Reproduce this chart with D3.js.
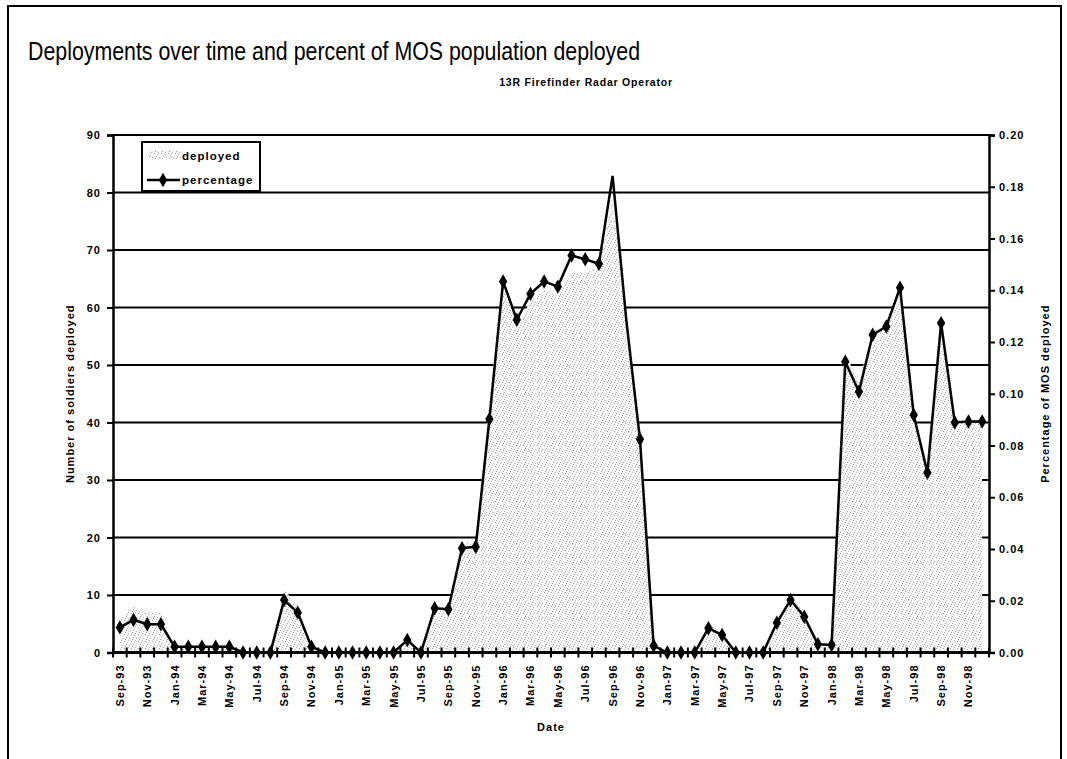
<!DOCTYPE html>
<html>
<head>
<meta charset="utf-8">
<script src="https://cdn.jsdelivr.net/npm/d3@7"></script>
<style>
  html, body { margin: 0; padding: 0; background: #fff; }
  svg { display: block; }
  text { font-family: "Liberation Sans", Arial, sans-serif; fill: #000; }
</style>
</head>
<body>
<svg id="chart" width="1067" height="759"></svg>
<script>
// Monthly categories, Sep-93 through Dec-98
const months = [
  "Sep-93","Oct-93","Nov-93","Dec-93",
  "Jan-94","Feb-94","Mar-94","Apr-94","May-94","Jun-94","Jul-94","Aug-94","Sep-94","Oct-94","Nov-94","Dec-94",
  "Jan-95","Feb-95","Mar-95","Apr-95","May-95","Jun-95","Jul-95","Aug-95","Sep-95","Oct-95","Nov-95","Dec-95",
  "Jan-96","Feb-96","Mar-96","Apr-96","May-96","Jun-96","Jul-96","Aug-96","Sep-96","Oct-96","Nov-96","Dec-96",
  "Jan-97","Feb-97","Mar-97","Apr-97","May-97","Jun-97","Jul-97","Aug-97","Sep-97","Oct-97","Nov-97","Dec-97",
  "Jan-98","Feb-98","Mar-98","Apr-98","May-98","Jun-98","Jul-98","Aug-98","Sep-98","Oct-98","Nov-98","Dec-98"
];

// Number of soldiers deployed (left axis)
const deployed = [
  6, 8, 7, 7,
  1, 1, 1, 1, 1, 0, 0, 0, 11, 8, 1, 0,
  0, 0, 0, 0, 0, 3, 0, 8, 8, 19, 19, 44,
  65, 57, 61, 63, 62, 66, 66, 67, 79, 57, 38, 1,
  0, 0, 0, 5, 4, 0, 0, 0, 6, 10, 7, 1,
  1, 52, 47, 56, 57, 64, 42, 32, 57, 40, 40, 40
];

// Share of the MOS population deployed (right axis)
const percentage = [
  0.0097, 0.0126, 0.0109, 0.0109,
  0.0022, 0.0022, 0.0022, 0.0022, 0.0022, 0, 0, 0, 0.0203, 0.0154, 0.0022, 0,
  0, 0, 0, 0, 0, 0.0048, 0, 0.0171, 0.0167, 0.0403, 0.0409, 0.0902,
  0.1434, 0.1286, 0.1386, 0.1434, 0.1414, 0.1534, 0.1520, 0.1502, 0.1842, 0.1286, 0.0824, 0.0026,
  0, 0, 0, 0.0094, 0.0068, 0, 0, 0, 0.0115, 0.0203, 0.0138, 0.0032,
  0.0029, 0.1124, 0.1008, 0.1228, 0.1260, 0.1410, 0.0918, 0.0695, 0.1273, 0.0889, 0.0893, 0.0893
];

// Months plotted on the line without a diamond marker
const unmarked = ["Sep-96", "Oct-96"];

// Axis ticks
const leftTicks = [0, 10, 20, 30, 40, 50, 60, 70, 80, 90];
const rightTicks = [0, 0.02, 0.04, 0.06, 0.08, 0.10, 0.12, 0.14, 0.16, 0.18, 0.20];

const svg = d3.select("#chart");
const plot = { left: 113, right: 989, top: 135, bottom: 652.5 };

const x = d3.scaleBand().domain(months).range([plot.left, plot.right]);
const cx = m => x(m) + x.bandwidth() / 2;
const y = d3.scaleLinear().domain([0, 90]).range([plot.bottom, plot.top]);
const y2 = d3.scaleLinear().domain([0, 0.2]).range([plot.bottom, plot.top]);

// Stippled fill for the deployed area
const defs = svg.append("defs");
const pat = defs.append("pattern")
  .attr("id", "stipple")
  .attr("patternUnits", "userSpaceOnUse")
  .attr("width", 7).attr("height", 7);
pat.append("rect").attr("width", 7).attr("height", 7).attr("fill", "#f5f5f5");
[[0,0],[3,1],[5,4],[1,5],[6,2],[2,3]].forEach(([a, b], i) => {
  pat.append("rect").attr("x", a).attr("y", b).attr("width", 1).attr("height", 1)
    .attr("fill", i % 2 ? "#bdbdbd" : "#a0a0a0");
});

// Outer frame
svg.append("rect")
  .attr("x", 8).attr("y", 6).attr("width", 1053).attr("height", 780)
  .attr("fill", "none").attr("stroke", "#000").attr("stroke-width", 2);

// Titles
svg.append("text")
  .attr("x", 28).attr("y", 60)
  .style("font-size", "25px")
  .attr("textLength", 612).attr("lengthAdjust", "spacingAndGlyphs")
  .text("Deployments over time and percent of MOS population deployed");

svg.append("text")
  .attr("x", 586).attr("y", 86)
  .attr("text-anchor", "middle")
  .style("font-size", "10.5px").style("font-weight", "bold").style("letter-spacing", "0.8px")
  .text("13R Firefinder Radar Operator");

// Horizontal gridlines
svg.append("g")
  .selectAll("line")
  .data(leftTicks.filter(d => d > 0))
  .join("line")
  .attr("x1", plot.left).attr("x2", plot.right)
  .attr("y1", d => y(d)).attr("y2", d => y(d))
  .attr("stroke", "#000").attr("stroke-width", 2);

// Deployed area
const area = d3.area()
  .x((d, i) => cx(months[i]))
  .y0(y(0))
  .y1(d => y(d));
svg.append("path")
  .datum(deployed)
  .attr("d", area)
  .attr("fill", "url(#stipple)");

// Left axis
const yAxis = d3.axisLeft(y).tickValues(leftTicks).tickSize(6).tickPadding(6);
const gy = svg.append("g").attr("transform", `translate(${plot.left},0)`).call(yAxis);
gy.select(".domain").attr("stroke-width", 2.5);
gy.selectAll(".tick line").attr("stroke-width", 2);
gy.selectAll("text")
  .style("font-size", "11px").style("font-weight", "bold").style("letter-spacing", "1px")
  .style("font-family", "Liberation Sans, Arial, sans-serif");

// Right axis
const yAxis2 = d3.axisRight(y2).tickValues(rightTicks).tickFormat(d3.format(".2f")).tickSize(6).tickPadding(4);
const gy2 = svg.append("g").attr("transform", `translate(${plot.right},0)`).call(yAxis2);
gy2.select(".domain").attr("stroke-width", 2.5);
gy2.selectAll(".tick line").attr("stroke-width", 2);
gy2.selectAll("text")
  .style("font-size", "11px").style("font-weight", "bold").style("letter-spacing", "1px")
  .style("font-family", "Liberation Sans, Arial, sans-serif");

// Bottom axis: ticks between months, labels on every other month
const gx = svg.append("g").attr("transform", `translate(0,${plot.bottom})`);
gx.append("line")
  .attr("x1", plot.left).attr("x2", plot.right)
  .attr("stroke", "#000").attr("stroke-width", 3);
gx.selectAll("line.tk")
  .data(months.concat(["end"]))
  .join("line").attr("class", "tk")
  .attr("x1", (d, i) => plot.left + i * x.bandwidth())
  .attr("x2", (d, i) => plot.left + i * x.bandwidth())
  .attr("y1", -5).attr("y2", 5)
  .attr("stroke", "#000").attr("stroke-width", 2);
gx.selectAll("text")
  .data(months.filter((d, i) => i % 2 === 0))
  .join("text")
  .attr("transform", d => `translate(${cx(d) + 4},12) rotate(-90)`)
  .attr("text-anchor", "end")
  .style("font-size", "11px").style("font-weight", "bold").style("letter-spacing", "1px")
  .text(d => d);

// Axis titles
svg.append("text")
  .attr("transform", `translate(74,${(plot.top + plot.bottom) / 2}) rotate(-90)`)
  .attr("text-anchor", "middle")
  .style("font-size", "11px").style("font-weight", "bold").style("letter-spacing", "1px")
  .text("Number of soldiers deployed");

svg.append("text")
  .attr("transform", `translate(1049,${(plot.top + plot.bottom) / 2}) rotate(-90)`)
  .attr("text-anchor", "middle")
  .style("font-size", "11px").style("font-weight", "bold").style("letter-spacing", "1px")
  .text("Percentage of MOS deployed");

svg.append("text")
  .attr("x", (plot.left + plot.right) / 2).attr("y", 731)
  .attr("text-anchor", "middle")
  .style("font-size", "11px").style("font-weight", "bold").style("letter-spacing", "1px")
  .text("Date");

// Percentage line
const line = d3.line()
  .x((d, i) => cx(months[i]))
  .y(d => y2(d));
svg.append("path")
  .datum(percentage)
  .attr("d", line)
  .attr("fill", "none").attr("stroke", "#000").attr("stroke-width", 2.5)
  .attr("stroke-linejoin", "miter");

const diamond = d3.symbol().type(d3.symbolDiamond).size(60);
svg.append("g")
  .selectAll("path")
  .data(percentage.map((v, i) => ({ m: months[i], v })).filter(d => !unmarked.includes(d.m)))
  .join("path")
  .attr("transform", d => `translate(${cx(d.m)},${y2(d.v)})`)
  .attr("d", diamond)
  .attr("fill", "#000");

// Legend
const lg = svg.append("g").attr("transform", "translate(142,142)");
lg.append("rect").attr("width", 118).attr("height", 49)
  .attr("fill", "#fff").attr("stroke", "#000").attr("stroke-width", 2);
lg.append("rect").attr("x", 7).attr("y", 9).attr("width", 32).attr("height", 8)
  .attr("fill", "url(#stipple)");
lg.append("text").attr("x", 40).attr("y", 18)
  .style("font-size", "11.5px").style("font-weight", "bold").style("letter-spacing", "1px")
  .text("deployed");
lg.append("line").attr("x1", 5).attr("x2", 38).attr("y1", 38).attr("y2", 38)
  .attr("stroke", "#000").attr("stroke-width", 2.5);
lg.append("path").attr("transform", "translate(21,38)").attr("d", diamond).attr("fill", "#000");
lg.append("text").attr("x", 40).attr("y", 42)
  .style("font-size", "11.5px").style("font-weight", "bold").style("letter-spacing", "1px")
  .text("percentage");
</script>
</body>
</html>
